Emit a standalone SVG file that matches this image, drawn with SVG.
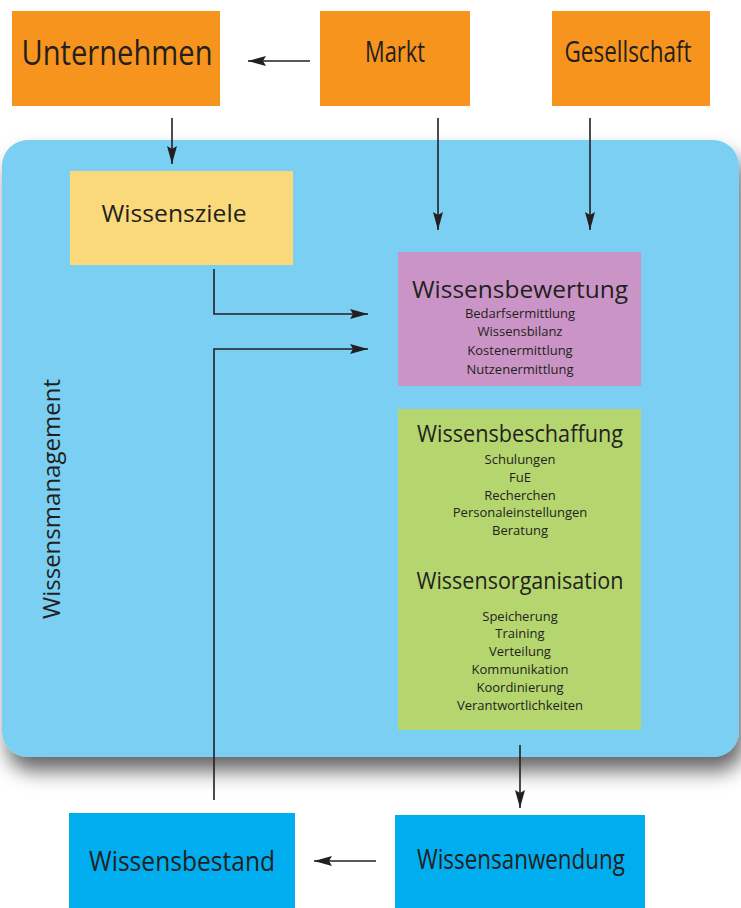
<svg xmlns="http://www.w3.org/2000/svg" width="741" height="908" viewBox="0 0 741 908">
<style>
text{font-family:"Open Sans","Noto Sans","Liberation Sans",sans-serif;fill:#231f20;text-anchor:middle}
.org{fill:#F7941E}
.cy{fill:#00AEEF}
.big{font-size:29px}
.mid{font-size:23px}
.sm{font-size:13px}
.con{fill:none;stroke:#231f20;stroke-width:1.6}
</style>
<defs>
<marker id="ah" viewBox="0 0 18 10" refX="18" refY="5" markerWidth="18" markerHeight="10" markerUnits="userSpaceOnUse" orient="auto">
<path d="M0,0 L18,5 L0,10 L3,5 Z" fill="#231f20"/>
</marker>
<filter id="sh" x="-5%" y="-5%" width="115%" height="120%">
<feDropShadow dx="5" dy="14" stdDeviation="10" flood-color="#000" flood-opacity="0.6"/>
</filter>
</defs>
<rect width="741" height="908" fill="#fff"/>
<g id="wissensmanagement">
<rect x="2" y="140" width="737" height="617" rx="26" fill="#7ACFF3" filter="url(#sh)"/>
<text class="mid" transform="translate(60,499) rotate(-90)" font-size="24" textLength="240" lengthAdjust="spacingAndGlyphs">Wissensmanagement</text>
</g>
<g id="unternehmen"><rect class="org" x="12" y="11" width="208" height="95"/><text x="117" y="65" font-size="34" textLength="191" lengthAdjust="spacingAndGlyphs">Unternehmen</text></g>
<g id="markt"><rect class="org" x="320" y="11" width="150" height="95"/><text class="big" x="395" y="62" textLength="60" lengthAdjust="spacingAndGlyphs">Markt</text></g>
<g id="gesellschaft"><rect class="org" x="552" y="11" width="158" height="95"/><text class="big" x="628" y="62" textLength="127" lengthAdjust="spacingAndGlyphs">Gesellschaft</text></g>
<g id="wissensziele"><rect x="70" y="171" width="223" height="94" fill="#FAD97A"/><text class="mid" x="174" y="222" font-size="22" textLength="145" lengthAdjust="spacingAndGlyphs">Wissensziele</text></g>
<g id="wissensbewertung"><rect x="398" y="252" width="243" height="134" fill="#CA95C6"/>
<text class="mid" x="520" y="298" font-size="24" textLength="216" lengthAdjust="spacingAndGlyphs">Wissensbewertung</text>
<text class="sm" x="520" y="318">Bedarfsermittlung</text>
<text class="sm" x="520" y="336">Wissensbilanz</text>
<text class="sm" x="520" y="355">Kostenermittlung</text>
<text class="sm" x="520" y="374">Nutzenermittlung</text>
</g>
<g id="wissensbeschaffung"><rect x="398" y="409" width="243" height="321" fill="#B5D56F"/>
<text class="mid" x="520" y="442" textLength="206" lengthAdjust="spacingAndGlyphs">Wissensbeschaffung</text>
<text class="sm" x="520" y="464">Schulungen</text>
<text class="sm" x="520" y="482">FuE</text>
<text class="sm" x="520" y="500">Recherchen</text>
<text class="sm" x="520" y="517">Personaleinstellungen</text>
<text class="sm" x="520" y="535">Beratung</text>
</g>
<g id="wissensorganisation">
<text class="mid" x="520" y="589" textLength="207" lengthAdjust="spacingAndGlyphs">Wissensorganisation</text>
<text class="sm" x="520" y="621">Speicherung</text>
<text class="sm" x="520" y="638">Training</text>
<text class="sm" x="520" y="656">Verteilung</text>
<text class="sm" x="520" y="674">Kommunikation</text>
<text class="sm" x="520" y="692">Koordinierung</text>
<text class="sm" x="520" y="710">Verantwortlichkeiten</text>
</g>
<g id="wissensanwendung"><rect class="cy" x="395" y="815" width="250" height="93"/><text x="521" y="869" font-size="27" textLength="208" lengthAdjust="spacingAndGlyphs">Wissensanwendung</text></g>
<g id="wissensbestand"><rect class="cy" x="69" y="813" width="226" height="95"/><text x="182" y="871" font-size="28" textLength="186" lengthAdjust="spacingAndGlyphs">Wissensbestand</text></g>
<g id="connectors">
<path class="con" d="M310,61 H248" marker-end="url(#ah)"/>
<path class="con" d="M172,118 V164" marker-end="url(#ah)"/>
<path class="con" d="M438,118 V230" marker-end="url(#ah)"/>
<path class="con" d="M590,118 V230" marker-end="url(#ah)"/>
<path class="con" d="M214,269 V314 H368" marker-end="url(#ah)"/>
<path class="con" d="M214,800 V349 H368" marker-end="url(#ah)"/>
<path class="con" d="M520,745 V808" marker-end="url(#ah)"/>
<path class="con" d="M376,861 H314" marker-end="url(#ah)"/>
</g>
</svg>
